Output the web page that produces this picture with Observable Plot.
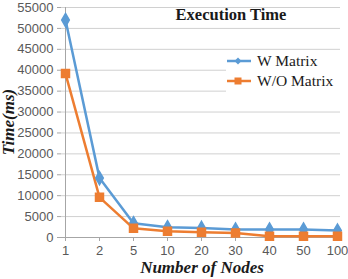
<!DOCTYPE html>
<html><head><meta charset="utf-8">
<script src="https://cdn.jsdelivr.net/npm/d3@7"></script>
<script src="https://cdn.jsdelivr.net/npm/@observablehq/plot@0.6"></script>
<style>
html,body{margin:0;padding:0;background:#fff;}
#wrap{position:relative;width:348px;height:279px;overflow:hidden;}
.ov{position:absolute;font-family:"Liberation Serif","DejaVu Serif",serif;color:#1a1a1a;line-height:1;}
#title{left:150px;top:7px;width:162px;text-align:center;font-weight:bold;font-size:16.5px;}
#ylab{left:8px;top:122px;transform:translate(-50%,-50%) rotate(-90deg);font-weight:bold;font-style:italic;font-size:17px;white-space:nowrap;}
#xlab{left:202px;top:259px;transform:translateX(-50%);font-weight:bold;font-style:italic;font-size:17px;white-space:nowrap;}
#legend{left:226px;top:51px;width:120px;height:44px;background:#fff;font-size:15.5px;}
.li{display:flex;align-items:center;height:20px;}
.li svg{margin-right:5px;}
</style>
</head><body>
<div id="wrap"></div>
<script>
const nodes = ["1","2","5","10","20","30","40","50","100"];
const wMatrix = [52000,14200,3400,2450,2300,1900,1900,1900,1650];
const woMatrix = [39200,9600,2200,1500,1260,1100,300,300,300];
const yTicks = [0,5000,10000,15000,20000,25000,30000,35000,40000,45000,50000,55000];
const seriesNames = ["W Matrix","W/O Matrix"];
const colors = ["#5B9BD5","#ED7D31"];
const title = "Execution Time";
const xLabel = "Number of Nodes";
const yLabel = "Time(ms)";

const data = [];
nodes.forEach((n,i)=>{
  data.push({node:n, value:wMatrix[i], s:seriesNames[0]});
  data.push({node:n, value:woMatrix[i], s:seriesNames[1]});
});
const wData = data.filter(d=>d.s===seriesNames[0]);
const oData = data.filter(d=>d.s===seriesNames[1]);

const chart = Plot.plot({
  width:348, height:279,
  marginLeft:61, marginRight:8, marginTop:7, marginBottom:42,
  style:{fontFamily:"'Liberation Sans', Arial, sans-serif", fontSize:"13px", color:"#595959", background:"#fff"},
  x:{type:"point", domain:nodes, padding:0, label:null},
  y:{domain:[0,55000], label:null},
  marks:[
    Plot.gridY(yTicks,{stroke:"#d0d0d0", strokeOpacity:1}),
    Plot.ruleX([nodes[0]],{stroke:"#a6a6a6"}),
    Plot.ruleY([0],{stroke:"#a6a6a6"}),
    Plot.axisY(yTicks,{tickSize:4, tickPadding:4, stroke:"#a6a6a6", fill:"#595959", label:null, tickFormat:d3.format("d")}),
    Plot.axisX(nodes,{tickSize:4, tickPadding:4, stroke:"#a6a6a6", fill:"#595959", label:null}),
    Plot.line(wData,{x:"node", y:"value", stroke:colors[0], strokeWidth:2.5}),
    Plot.line(oData,{x:"node", y:"value", stroke:colors[1], strokeWidth:2.5}),
    Plot.dot(wData,{x:"node", y:"value", symbol:"diamond", r:4, fill:colors[0], stroke:colors[0]}),
    Plot.dot(oData,{x:"node", y:"value", symbol:"square", r:4.5, fill:colors[1], stroke:colors[1]})
  ]
});
const wrap = document.getElementById("wrap");
wrap.appendChild(chart);

function ov(id, text){ const d=document.createElement("div"); d.className="ov"; d.id=id; d.textContent=text; wrap.appendChild(d); return d; }
ov("title", title);
ov("ylab", yLabel);
ov("xlab", xLabel);
const lg = document.createElement("div"); lg.className="ov"; lg.id="legend"; wrap.appendChild(lg);
const syms = ["diamond","square"];
seriesNames.forEach((name,i)=>{
  const row = document.createElement("div"); row.className="li";
  const sym = syms[i]==="diamond"
    ? `<path d="M12,1.5 L15.5,5 L12,8.5 L8.5,5Z" fill="${colors[i]}"/>`
    : `<rect x="8.5" y="1.5" width="7" height="7" fill="${colors[i]}"/>`;
  row.innerHTML = `<svg width="26" height="10"><line x1="1" x2="25" y1="5" y2="5" stroke="${colors[i]}" stroke-width="2.5"/>${sym}</svg><span>${name}</span>`;
  lg.appendChild(row);
});
</script>
</body></html>
